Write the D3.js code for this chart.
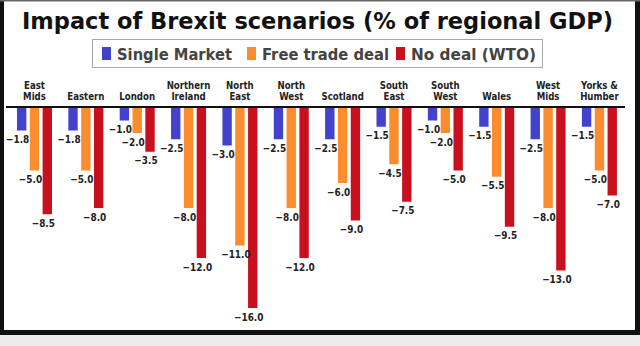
<!DOCTYPE html>
<html>
<head>
<meta charset="utf-8">
<script src="https://cdn.jsdelivr.net/npm/d3@7"></script>
<style>
  html, body { margin: 0; padding: 0; background: #ececec; }
  svg { display: block; }
  text { font-family: "DejaVu Sans", Verdana, sans-serif; }
</style>
</head>
<body>
<svg id="chart" width="640" height="346"></svg>
<script>
// Regions and scenario impacts (% of regional GDP)
const regions = [
  ["East", "Mids"], ["Eastern"], ["London"], ["Northern", "Ireland"],
  ["North", "East"], ["North", "West"], ["Scotland"], ["South", "East"],
  ["South", "West"], ["Wales"], ["West", "Mids"], ["Yorks &", "Humber"]
];
const seriesNames = ["Single Market", "Free trade deal", "No deal (WTO)"];
const singleMarket = [-1.8, -1.8, -1.0, -2.5, -3.0, -2.5, -2.5, -1.5, -1.0, -1.5, -2.5, -1.5];
const freeTrade    = [-5.0, -5.0, -2.0, -8.0, -11.0, -8.0, -6.0, -4.5, -2.0, -5.5, -8.0, -5.0];
const noDeal       = [-8.5, -8.0, -3.5, -12.0, -16.0, -12.0, -9.0, -7.5, -5.0, -9.5, -13.0, -7.0];
const colors = ["#4242cc", "#fb8d2e", "#c8101f"];

const svg = d3.select("#chart");
const W = 640;

// Squeeze a text element horizontally by a factor, keeping its height
function squeeze(sel, factor) {
  sel.each(function () {
    const w = this.getComputedTextLength();
    d3.select(this).attr("textLength", w * factor).attr("lengthAdjust", "spacingAndGlyphs");
  });
  return sel;
}

// Panel with black frame
svg.append("rect").attr("x", 0).attr("y", 0).attr("width", W).attr("height", 335).attr("fill", "#fff");
svg.append("rect").attr("x", 0).attr("y", 0).attr("width", 4).attr("height", 335).attr("fill", "#111");
svg.append("rect").attr("x", 635).attr("y", 0).attr("width", 5).attr("height", 335).attr("fill", "#111");
svg.append("rect").attr("x", 0).attr("y", 330).attr("width", W).attr("height", 5).attr("fill", "#111");
svg.append("rect").attr("x", 0).attr("y", 0).attr("width", W).attr("height", 1.5).attr("fill", "#666");

// Title
svg.append("text")
  .attr("x", 317.5).attr("y", 28.5)
  .attr("text-anchor", "middle")
  .attr("font-weight", "bold")
  .attr("font-size", 22.5)
  .attr("fill", "#111")
  .attr("textLength", 591).attr("lengthAdjust", "spacingAndGlyphs")
  .text("Impact of Brexit scenarios (% of regional GDP)");

// Legend
const legend = svg.append("g");
legend.append("rect")
  .attr("x", 92.5).attr("y", 39.5).attr("width", 450).attr("height", 28)
  .attr("fill", "#fff").attr("stroke", "#a8a8a8").attr("stroke-width", 1);
const legendTextWidths = [115, 127, 125];
const legendGaps = [15, 7, 0];
let lx = 102;
seriesNames.forEach((name, i) => {
  legend.append("rect").attr("x", lx).attr("y", 47).attr("width", 9).attr("height", 13).attr("fill", colors[i]);
  legend.append("text")
    .attr("x", lx + 15).attr("y", 59.5)
    .attr("font-weight", "bold").attr("font-size", 16.5)
    .attr("fill", "#444")
    .attr("textLength", legendTextWidths[i]).attr("lengthAdjust", "spacingAndGlyphs")
    .text(name);
  lx += 15 + legendTextWidths[i] + legendGaps[i];
});

// Scales
const x0 = d3.scaleBand().domain(d3.range(regions.length)).range([8.8, 625.1]).padding(0);
const x1 = d3.scaleBand().domain(d3.range(3)).range([0, 35]).paddingInner(0.27);
const y = d3.scaleLinear().domain([0, -16]).range([108, 308]);

const data = regions.map((r, i) => ({
  name: r, values: [singleMarket[i], freeTrade[i], noDeal[i]]
}));

// Region labels above the baseline
const labels = svg.append("g");
data.forEach((d, i) => {
  const cx = x0(i) + x0.bandwidth() / 2;
  const lines = d.name;
  lines.forEach((ln, k) => {
    labels.append("text")
      .attr("x", cx)
      .attr("y", 100 - (lines.length - 1 - k) * 11)
      .attr("text-anchor", "middle")
      .attr("font-weight", "bold")
      .attr("font-size", 10)
      .attr("fill", "#222")
      .text(ln);
  });
});
squeeze(labels.selectAll("text"), 0.86);

// Bars
const groups = svg.append("g").selectAll("g").data(data).join("g")
  .attr("transform", (d, i) => `translate(${x0(i) + (x0.bandwidth() - 35) / 2},0)`);

groups.selectAll("rect").data(d => d.values).join("rect")
  .attr("x", (v, j) => x1(j))
  .attr("y", y(0))
  .attr("width", x1.bandwidth())
  .attr("height", v => y(v) - y(0))
  .attr("fill", (v, j) => colors[j]);

const valueLabels = groups.selectAll("text").data(d => d.values).join("text")
  .attr("x", (v, j) => x1(j) + x1.bandwidth() / 2 - 4)
  .attr("y", v => y(v) + 12.5)
  .attr("text-anchor", "middle")
  .attr("font-weight", "bold")
  .attr("font-size", 10.5)
  .attr("fill", "#222")
  .text(v => d3.format(".1f")(v));
squeeze(valueLabels, 0.85);

// Baseline
svg.append("line")
  .attr("x1", 6).attr("x2", 625)
  .attr("y1", 107).attr("y2", 107)
  .attr("stroke", "#111").attr("stroke-width", 2);
</script>
</body>
</html>
